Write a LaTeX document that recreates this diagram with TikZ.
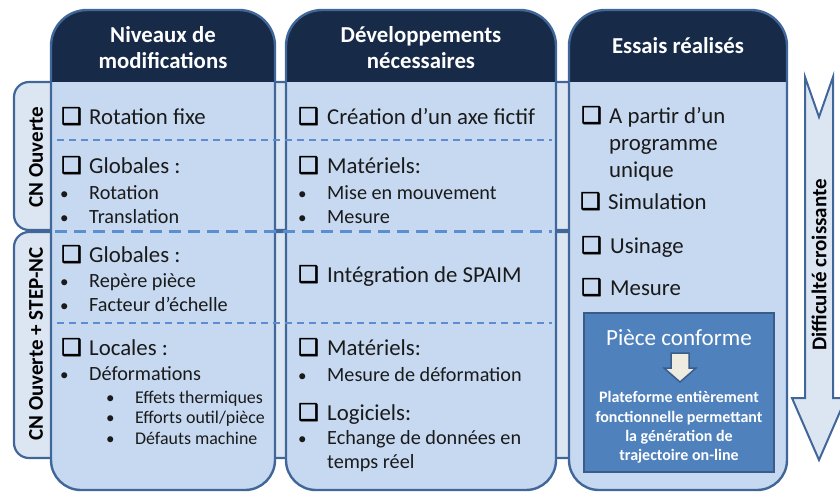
\documentclass[tikz,border=0pt]{standalone}
\usepackage{fontspec}
\setmainfont{Carlito}
\newfontfamily\dejavu[FakeBold=2.5]{DejaVu Sans}
\definecolor{navy}{HTML}{172B49}
\definecolor{edge}{HTML}{41679A}
\definecolor{bodyfill}{HTML}{C6D9F1}
\definecolor{bandfill}{HTML}{DCE6F2}
\definecolor{dashc}{HTML}{5B8ED0}
\definecolor{txt}{HTML}{1A1A1A}
\definecolor{boxfill}{HTML}{4F81BD}
\definecolor{boxedge}{HTML}{385D8A}
\definecolor{beige}{HTML}{EEECE1}
\tikzset{
  band/.style={fill=bandfill, draw=edge, line width=2.2pt, rounded corners=15pt},
  coledge/.style={draw=edge, line width=2.4pt},
  hdr/.style={anchor=base, inner sep=0pt, text=white, font=\bfseries\fontsize{22.8}{26}\selectfont},
  main/.style={anchor=base west, inner sep=0pt, text=txt, font=\fontsize{22.8}{26}\selectfont},
  sub/.style={anchor=base west, inner sep=0pt, text=txt, font=\fontsize{20.2}{23}\selectfont},
  subsub/.style={anchor=base west, inner sep=0pt, text=txt, font=\fontsize{17.9}{21}\selectfont},
  dot/.style={anchor=base west, inner sep=0pt, text=txt, font=\fontsize{17}{21}\selectfont},
  cbox/.style={anchor=base west, inner sep=0pt, text=black, font=\dejavu\fontsize{23}{26}\selectfont},
  rowlab/.style={inner sep=0pt, text=black, rotate=90, font=\bfseries\fontsize{21}{24}\selectfont},
  thindash/.style={dashc, line width=1.8pt, dash pattern=on 7pt off 5pt},
  thickdash/.style={dashc, line width=3pt, dash pattern=on 12pt off 7pt},
  pcw/.style={anchor=base, inner sep=0pt, text=white, font=\bfseries\fontsize{16}{19}\selectfont},
}
\begin{document}
\begin{tikzpicture}[x=1pt,y=-1pt]
\useasboundingbox (0,0) rectangle (840,493);
% row bands
\draw[band] (14,82) rectangle (600,230);
\draw[band] (14,232) rectangle (600,458);
% columns
\foreach \a/\b in {51/275, 286/556, 569/787} {
  \fill[bodyfill] (\a,250) [rounded corners=36pt] -- (\a,10) -- (\b,10) -- (\b,250) [rounded corners=30pt] -- (\b,490) -- (\a,490) -- cycle;
  \begin{scope}
    \clip (\a,250) [rounded corners=36pt] -- (\a,10) -- (\b,10) -- (\b,250) -- cycle;
    \fill[navy] (\a,0) rectangle (\b,82);
  \end{scope}
  \draw[coledge] (\a,250) [rounded corners=36pt] -- (\a,10) -- (\b,10) -- (\b,250) [rounded corners=30pt] -- (\b,490) -- (\a,490) -- cycle;
}
% dashed separators
\draw[thindash] (57,140) -- (552,140);
\draw[thickdash] (55,231) -- (552,231);
\draw[thindash] (57,323) -- (552,323);
% big arrow
\draw[fill=bandfill, draw=edge, line width=2pt] (805,77) -- (819,117) -- (833,77) -- (833,398) -- (846,398) -- (819,460) -- (792,398) -- (805,398) -- cycle;
\node[rowlab] (diff) at (819,265) {Difficulté croissante};
% row labels
\node[rowlab] (r1) at (36,157) {CN Ouverte};
\node[rowlab] (r2) at (36,344) {CN Ouverte + STEP-NC};
% headers
\node[hdr] (h1a) at (163,42) {Niveaux de};
\node[hdr] (h1b) at (163,68) {modifications};
\node[hdr] (h2a) at (421,42) {Développements};
\node[hdr] (h2b) at (421,68) {nécessaires};
\node[hdr] (h3) at (678,53) {Essais réalisés};
% column 1
\node[cbox] (c1a) at (61,124) {❑};
\node[main] (t1a) at (89,124) {Rotation fixe};
\node[cbox] (c1b) at (61,173) {❑};
\node[main] (t1b) at (89,173) {Globales :};
\node[dot] (b1a) at (60,199) {•};
\node[sub] (t1c) at (89,199) {Rotation};
\node[dot] (b1b) at (60,223) {•};
\node[sub] (t1d) at (89,223) {Translation};
\node[cbox] (c1c) at (61,262) {❑};
\node[main] (t1e) at (89,262) {Globales :};
\node[dot] (b1c) at (60,287) {•};
\node[sub] (t1f) at (89,287) {Repère pièce};
\node[dot] (b1d) at (60,311) {•};
\node[sub] (t1g) at (89,311) {Facteur d’échelle};
\node[cbox] (c1d) at (61,355) {❑};
\node[main] (t1h) at (89,355) {Locales :};
\node[dot] (b1e) at (60,380) {•};
\node[sub] (t1i) at (89,380) {Déformations};
\node[dot] (b1f) at (106,403) {•};
\node[subsub] (t1j) at (135,403) {Effets thermiques};
\node[dot] (b1g) at (106,423) {•};
\node[subsub] (t1k) at (135,423) {Efforts outil/pièce};
\node[dot] (b1h) at (106,444) {•};
\node[subsub] (t1l) at (135,444) {Défauts machine};
% column 2
\node[cbox] (c2a) at (298,124) {❑};
\node[main] (t2a) at (327,124) {Création d’un axe fictif};
\node[cbox] (c2b) at (298,173) {❑};
\node[main] (t2b) at (327,173) {Matériels:};
\node[dot] (b2a) at (298,199) {•};
\node[sub] (t2c) at (327,199) {Mise en mouvement};
\node[dot] (b2b) at (298,223) {•};
\node[sub] (t2d) at (327,223) {Mesure};
\node[cbox] (c2c) at (298,282) {❑};
\node[main] (t2e) at (327,282) {Intégration de SPAIM};
\node[cbox] (c2d) at (298,355) {❑};
\node[main] (t2f) at (327,355) {Matériels:};
\node[dot] (b2c) at (298,381) {•};
\node[sub] (t2g) at (327,381) {Mesure de déformation};
\node[cbox] (c2e) at (298,420) {❑};
\node[main] (t2h) at (327,420) {Logiciels:};
\node[dot] (b2d) at (298,444) {•};
\node[sub] (t2i) at (327,444) {Echange de données en};
\node[sub] (t2j) at (327,468) {temps réel};
% column 3
\node[cbox] (c3a) at (581,123) {❑};
\node[main] (t3a) at (609,123) {A partir d’un};
\node[main] (t3b) at (609,150) {programme};
\node[main] (t3c) at (609,177) {unique};
\node[cbox] (c3b) at (580,209) {❑};
\node[main] (t3d) at (608,209) {Simulation};
\node[cbox] (c3c) at (581,253) {❑};
\node[main] (t3e) at (610,253) {Usinage};
\node[cbox] (c3d) at (581,295) {❑};
\node[main] (t3f) at (610,295) {Mesure};
% piece conforme box
\node[draw=boxedge, fill=boxfill, line width=2pt, minimum width=190pt, minimum height=159pt, inner sep=0pt] (pc) at (679,392.5) {};
\node[anchor=base, inner sep=0pt, text=white, font=\fontsize{23.1}{26}\selectfont] (pct) at (679,345) {Pièce conforme};
\draw[fill=beige, draw=boxedge, line width=1.5pt] (671,353) -- (689,353) -- (689,368) -- (696,368) -- (680,382) -- (664,368) -- (671,368) -- cycle;
\node[pcw] (p1) at (679,402) {Plateforme entièrement};
\node[pcw] (p2) at (679,422) {fonctionnelle permettant};
\node[pcw] (p3) at (679,441) {la génération de};
\node[pcw] (p4) at (679,460) {trajectoire on-line};
\end{tikzpicture}
\end{document}
